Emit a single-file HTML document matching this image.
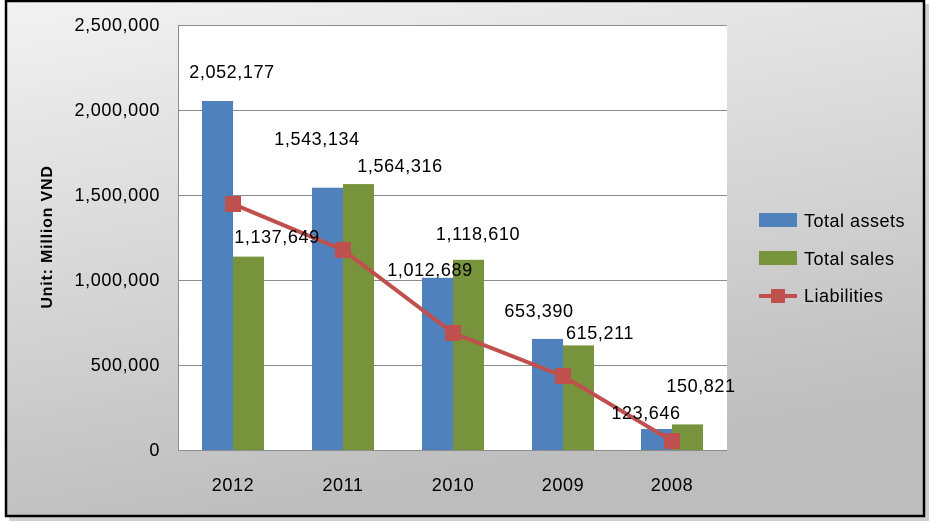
<!DOCTYPE html>
<html><head><meta charset="utf-8"><style>body{margin:0}svg{display:block}</style></head><body>
<svg width="931" height="525" xmlns="http://www.w3.org/2000/svg" font-family="Liberation Sans, DejaVu Sans, sans-serif">
<defs><linearGradient id="bg" x1="0" y1="0" x2="0.3" y2="1"><stop offset="0" stop-color="#f2f2f2"/><stop offset="1" stop-color="#bdbdbd"/></linearGradient></defs>
<rect x="0" y="0" width="931" height="525" fill="#fff"/>
<rect x="9" y="4" width="920" height="517" fill="#d0d0d0"/>
<rect x="6" y="1" width="918" height="515" fill="url(#bg)" stroke="#000" stroke-width="2.5"/>
<rect x="178" y="25" width="549" height="425" fill="#fff"/>
<g stroke="#8c8c8c" stroke-width="1">
<line x1="178" y1="25.5" x2="727" y2="25.5"/><line x1="178" y1="110.5" x2="727" y2="110.5"/><line x1="178" y1="195.5" x2="727" y2="195.5"/><line x1="178" y1="280.5" x2="727" y2="280.5"/><line x1="178" y1="365.5" x2="727" y2="365.5"/><line x1="178" y1="450.5" x2="727" y2="450.5"/><line x1="178.5" y1="25" x2="178.5" y2="450"/>
</g>
<g font-size="18" letter-spacing="0.6" fill="#000" text-anchor="end">
<text x="160" y="31">2,500,000</text><text x="160" y="116">2,000,000</text><text x="160" y="201">1,500,000</text><text x="160" y="286">1,000,000</text><text x="160" y="371">500,000</text><text x="160" y="456">0</text>
</g>
<text transform="translate(52,237) rotate(-90)" font-size="16" letter-spacing="0.8" font-weight="bold" text-anchor="middle">Unit: Million VND</text>
<g fill="#4f81bd">
<rect x="202" y="101" width="31" height="349"/><rect x="312" y="187.7" width="31" height="262.3"/><rect x="422" y="277.8" width="31" height="172.2"/><rect x="532" y="338.9" width="31" height="111.1"/><rect x="641" y="429" width="31" height="21"/>
</g>
<g fill="#77933c">
<rect x="233" y="256.6" width="31" height="193.4"/><rect x="343" y="184.1" width="31" height="265.9"/><rect x="453" y="259.8" width="31" height="190.2"/><rect x="563" y="345.4" width="31" height="104.6"/><rect x="672" y="424.4" width="31" height="25.6"/>
</g>
<polyline points="233,204 343,250 453,333 563,376 672,441" fill="none" stroke="#c0504d" stroke-width="4"/>
<g fill="#c0504d">
<rect x="225" y="196" width="16" height="16"/><rect x="335" y="242" width="16" height="16"/><rect x="445" y="325" width="16" height="16"/><rect x="555" y="368" width="16" height="16"/><rect x="664" y="433" width="16" height="16"/>
</g>
<g font-size="18" letter-spacing="0.6" text-anchor="middle">
<text x="232" y="78">2,052,177</text><text x="317" y="145">1,543,134</text><text x="400" y="172">1,564,316</text><text x="277" y="243">1,137,649</text><text x="430" y="276">1,012,689</text><text x="478" y="240">1,118,610</text><text x="539" y="317">653,390</text><text x="600" y="339">615,211</text><text x="646" y="419">123,646</text><text x="701" y="392">150,821</text>
<text x="233" y="491">2012</text><text x="343" y="491">2011</text><text x="453" y="491">2010</text><text x="563" y="491">2009</text><text x="672" y="491">2008</text>
</g>
<rect x="759" y="213" width="38" height="14" fill="#4f81bd"/>
<rect x="759" y="251" width="38" height="14" fill="#77933c"/>
<line x1="759" y1="296" x2="797" y2="296" stroke="#c0504d" stroke-width="4"/>
<rect x="771" y="289" width="14" height="14" fill="#c0504d"/>
<g font-size="18" letter-spacing="0.5"><text x="804" y="227">Total assets</text><text x="804" y="265">Total sales</text><text x="804" y="302">Liabilities</text></g>
</svg>
</body></html>
